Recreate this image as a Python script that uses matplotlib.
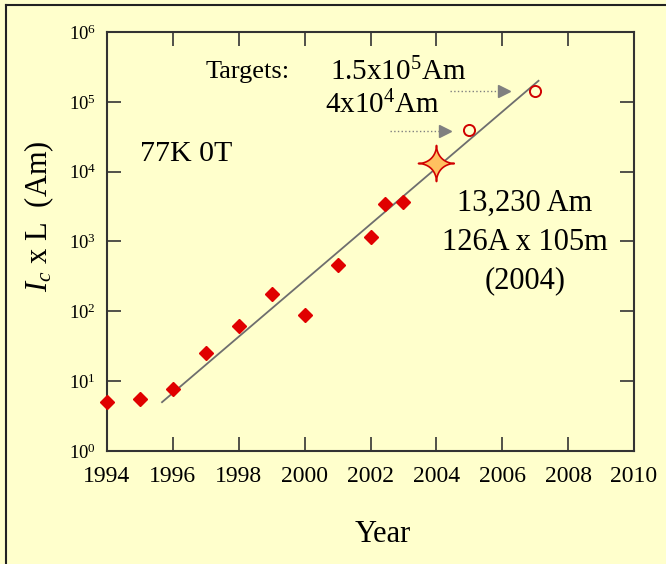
import numpy as np
import matplotlib
matplotlib.use('Agg')
import matplotlib.pyplot as plt
from matplotlib.lines import Line2D

plt.rcParams['font.family'] = 'Liberation Serif'
plt.rcParams['mathtext.fontset'] = 'custom'
plt.rcParams['mathtext.rm'] = 'Liberation Serif'
plt.rcParams['mathtext.it'] = 'Liberation Serif:italic'

# dados
anos = [1994, 1995, 1996, 1997, 1998, 1999, 2000, 2001, 2002, 2002.45, 2003]
ic_l = [5.0, 5.6, 7.8, 25.5, 61, 179, 90, 460, 1170, 3400, 3700]

ano_recorde = [2004]
valor_recorde = [13230]

anos_meta = [2005, 2007]
valores_meta = [4.0e4, 1.45e5]

# linha de tendencia (extremos)
anos_fit = [1995.67, 2007.1]
valores_fit = [5.0, 2.0e5]

fundo = '#FFFFCC'

fig = plt.figure(figsize=(6.66, 5.64), dpi=100, facecolor=fundo)
ax = fig.add_axes([0.1607, 0.2004, 0.7913, 0.7429])
ax.set_facecolor(fundo)

# borda da figura (esquerda e topo)
fig.add_artist(Line2D([0.009, 0.009], [0.0, 0.991], transform=fig.transFigure, color='#222222', lw=1.5))
fig.add_artist(Line2D([0.009, 1.0], [0.991, 0.991], transform=fig.transFigure, color='#222222', lw=1.5))

ax.set_yscale('log')
ax.set_xlim(1994, 2010)
ax.set_ylim(1, 1e6)

ax.plot(anos_fit, valores_fit, color='#6e6e6e', lw=1.3, zorder=2)
ax.plot(anos, ic_l, linestyle='none', marker='D', markersize=7.5, color='#E00000',
        zorder=3, clip_on=False)
ax.plot(anos_meta, valores_meta, linestyle='none', marker='o', markersize=8,
        markerfacecolor='none', markeredgecolor='#D00000', markeredgewidth=1.4, zorder=3)

# estrela de 4 pontas (bordas concavas)
t = np.linspace(0, 2 * np.pi, 161)
p = 3.6
estrela = np.column_stack([np.sign(np.cos(t)) * np.abs(np.cos(t)) ** p,
                           np.sign(np.sin(t)) * np.abs(np.sin(t)) ** p])
ax.plot(ano_recorde, valor_recorde, linestyle='none', marker=estrela, markersize=26,
        markerfacecolor='#FFC060', markeredgecolor='#D00000', markeredgewidth=1.2, zorder=4)

# setas pontilhadas
setas = [((2004.41, 2006.0), 10**5.16), ((2002.59, 2004.2), 10**4.58)]
for (x0, x1), y in setas:
    ax.plot([x0, x1], [y, y], color='#808080', lw=1.0, linestyle=':', zorder=2)
    ax.plot([x1 + 0.05], [y], marker='>', markersize=9, color='#808080', linestyle='none', zorder=2)

ax.text(1996.98, 10**5.43, 'Targets:', fontsize=19, va='center', ha='left')
ax.text(2000.77, 10**5.43, r'1.5x10$^5$Am', fontsize=21, va='center', ha='left')
ax.text(2000.62, 10**4.95, r'4x10$^4$Am', fontsize=21, va='center', ha='left')
ax.text(1995.0, 10**4.25, '77K 0T', fontsize=21.5, va='center', ha='left')
ax.text(2006.69, 10**3.55, '13,230 Am', fontsize=22, va='center', ha='center')
ax.text(2006.69, 10**2.99, '126A x 105m', fontsize=22, va='center', ha='center')
ax.text(2006.69, 10**2.44, '(2004)', fontsize=22, va='center', ha='center')

ax.set_xticks(np.arange(1994, 2011, 2))
ax.set_yticks([10**k for k in range(7)])
ax.set_yticklabels([r'$\mathregular{10^{%d}}$' % k for k in range(7)])
ax.minorticks_off()
ax.tick_params(axis='both', direction='in', length=10, width=1.2, top=True, right=True,
               color='#333333')
ax.tick_params(axis='x', labelsize=17, pad=11)
ax.tick_params(axis='y', labelsize=13.5, pad=8)
for s in ax.spines.values():
    s.set_linewidth(1.5)
    s.set_color('#333333')

ax.set_xlabel('Year', fontsize=22)
ax.xaxis.set_label_coords(0.524, -0.165)
ax.set_ylabel(r'$I_c$ x L  (Am)', fontsize=22)
ax.yaxis.set_label_coords(-0.097, 0.56)

fig.savefig('out.png', dpi=100, facecolor=fundo)
